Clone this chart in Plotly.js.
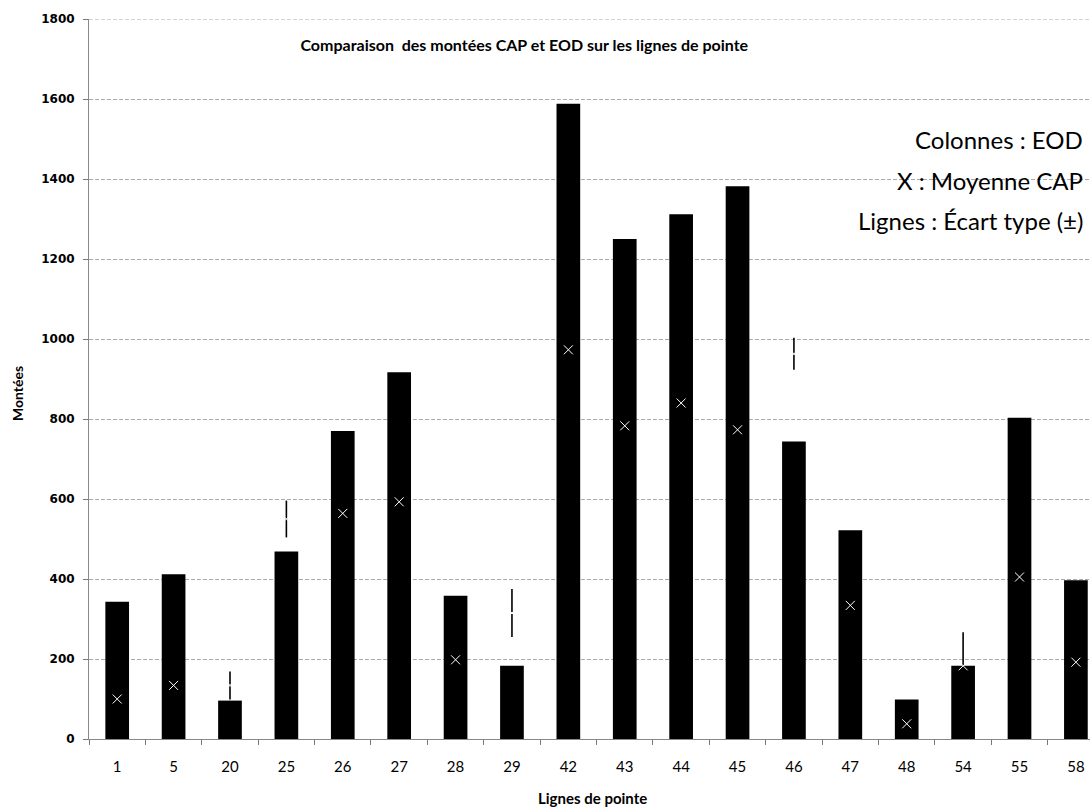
<!DOCTYPE html>
<html>
<head>
<meta charset="utf-8">
<script src="https://cdn.plot.ly/plotly-3.0.1.min.js"></script>
<style>html,body{margin:0;padding:0;background:#fff;overflow:hidden;}</style>
</head>
<body>
<div id="chart" style="width:1090px;height:809px;"></div>
<script>
// Lignes de pointe (categories)
const lignes = ['1','5','20','25','26','27','28','29','42','43','44','45','46','47','48','54','55','58'];
// Montées EOD (columns)
const eod = [343, 412, 96, 469, 770, 917, 358, 183, 1588, 1250, 1312, 1382, 744, 522, 99, 183, 803, 397];
// Moyenne CAP (X markers)
const capMoyenne = [100, 134, 134, 550, 564, 593, 198, 315, 973, 783, 840, 773, 963, 334, 38, 183, 405, 192];
// Écart type CAP (lines, ±)
const capEcart = [60, 80, 35, 46, 120, 150, 60, 60, 200, 180, 190, 170, 40, 90, 20, 84, 110, 70];
// Y tick values
const yTicks = [0, 200, 400, 600, 800, 1000, 1200, 1400, 1600, 1800];

const traces = [
  {
    type: 'bar',
    x: lignes,
    y: eod,
    width: 0.42,
    marker: {color: '#000000', line: {width: 0}},
    name: 'EOD',
    showlegend: false
  },
  {
    type: 'scatter',
    mode: 'markers',
    x: lignes,
    y: capMoyenne,
    marker: {symbol: 'x-thin-open', size: 9, color: '#ffffff', line: {color: '#dcdcdc', width: 1}},
    error_y: {type: 'data', symmetric: true, array: capEcart, color: '#000000', thickness: 1.6, width: 0},
    name: 'Moyenne CAP',
    showlegend: false
  }
];

const fam = 'Lato, "Open Sans", sans-serif';

const layout = {
  width: 1090,
  height: 809,
  margin: {l: 89, r: 0, t: 19, b: 70, pad: 0},
  paper_bgcolor: '#ffffff',
  plot_bgcolor: '#ffffff',
  showlegend: false,
  font: {family: fam, color: '#000'},
  title: {
    text: 'Comparaison&nbsp; des montées CAP et EOD sur les lignes de pointe',
    font: {family: fam, size: 16, color: '#000', weight: 'bold'},
    xref: 'container', yref: 'container',
    x: 0.481, xanchor: 'center',
    y: 1 - 45/809, yanchor: 'middle'
  },
  xaxis: {
    type: 'category',
    range: [-0.5, 17.25],
    showgrid: false,
    showline: true,
    linecolor: '#888',
    linewidth: 1,
    ticks: 'outside',
    tickson: 'boundaries',
    ticklen: 5,
    tickcolor: '#777',
    tickfont: {family: fam, size: 15, color: '#000'},
    ticklabelstandoff: 14,
    fixedrange: true
  },
  yaxis: {
    range: [0, 1800],
    tickvals: yTicks,
    showgrid: true,
    gridcolor: '#aaaaaa',
    griddash: '4px,2px',
    gridwidth: 1,
    zeroline: false,
    showline: true,
    linecolor: '#888',
    linewidth: 1,
    ticks: 'outside',
    ticklen: 5,
    tickcolor: '#777',
    tickfont: {family: '"DejaVu Sans", sans-serif', size: 12, color: '#000', weight: 'bold'},
    ticklabelstandoff: 6,
    fixedrange: true
  },
  shapes: [
    {type: 'line', xref: 'paper', yref: 'y', x0: 0, x1: 1, y0: 1800, y1: 1800, line: {color: '#aaaaaa', width: 1, dash: '4px,2px'}}
  ],
  annotations: [
    {text: 'Lignes de pointe', xref: 'paper', yref: 'paper', x: (592 - 89)/1001, y: (739 - 798)/720, xanchor: 'center', yanchor: 'middle', showarrow: false, font: {family: fam, size: 15, color: '#000', weight: 'bold'}},
    {text: 'Montées', xref: 'paper', yref: 'paper', x: (18 - 89)/1001, y: (739 - 394)/720, xanchor: 'center', yanchor: 'middle', textangle: -90, showarrow: false, font: {family: fam, size: 14, color: '#000', weight: 'bold'}},
    {text: 'Colonnes : EOD', xref: 'paper', yref: 'paper', x: 1 - 5/1001, y: (739 - 140)/720, xanchor: 'right', yanchor: 'middle', showarrow: false, font: {family: fam, size: 24, color: '#000'}},
    {text: 'X : Moyenne CAP', xref: 'paper', yref: 'paper', x: 1 - 5/1001, y: (739 - 180)/720, xanchor: 'right', yanchor: 'middle', showarrow: false, font: {family: fam, size: 24, color: '#000'}},
    {text: 'Lignes : Écart type (±)', xref: 'paper', yref: 'paper', x: 1 - 5/1001, y: (739 - 220)/720, xanchor: 'right', yanchor: 'middle', showarrow: false, font: {family: fam, size: 24, color: '#000'}}
  ]
};

Plotly.newPlot('chart', traces, layout, {displayModeBar: false, staticPlot: true});
</script>
</body>
</html>
